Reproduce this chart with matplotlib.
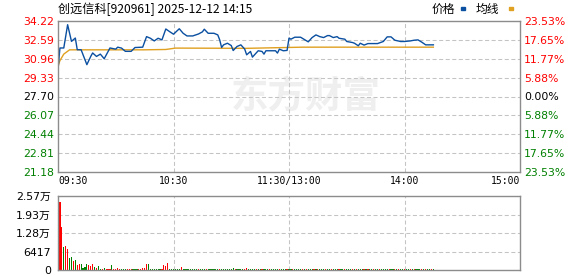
import matplotlib.pyplot as plt
from matplotlib.patches import Rectangle

# price line (minute since 09:30, price)
minutes = [0, 1, 3, 5, 7, 9, 10, 12, 15, 17, 18, 20, 22, 24, 27, 30, 31, 33, 35, 38,
           40, 44, 46, 48, 50, 52, 54, 56, 58, 60, 63, 65, 67, 70, 73, 75, 76, 78, 81, 83,
           84, 85, 86, 88, 90, 91, 93, 95, 97, 98, 100, 101, 104, 106, 107, 108, 113, 114, 115, 117,
           119, 120, 121, 123, 126, 128, 130, 132, 134, 136, 138, 140, 141, 143, 145, 146, 149, 150, 153, 154,
           156, 157, 159, 161, 166, 169, 171, 173, 175, 178, 180, 183, 185, 187, 189, 191, 195]
prices = [30.01, 31.89, 31.89, 33.90, 32.46, 32.75, 31.74, 31.74, 30.45, 31.16, 31.46, 31.16, 31.36, 30.96, 31.89, 31.79, 31.96, 31.88, 31.60, 31.60,
          31.93, 31.96, 32.87, 32.73, 32.50, 32.73, 32.59, 33.53, 33.30, 33.08, 33.55, 33.16, 32.93, 32.93, 33.10, 33.28, 33.51, 33.16, 33.16, 33.02,
          32.59, 31.93, 32.16, 32.30, 32.10, 31.67, 32.02, 32.16, 31.79, 31.30, 31.59, 31.10, 31.65, 31.59, 31.36, 31.65, 31.65, 31.45, 31.79, 31.65,
          31.68, 32.74, 32.65, 32.82, 32.82, 32.62, 32.42, 32.79, 33.02, 32.87, 32.79, 32.96, 32.96, 32.79, 32.87, 32.73, 32.65, 32.45, 32.36, 32.30,
          32.08, 32.30, 32.14, 32.27, 32.27, 32.45, 32.85, 32.85, 32.56, 32.45, 32.45, 32.50, 32.56, 32.59, 32.39, 32.16, 32.16]

avg_minutes = [0, 1, 3, 6, 44, 56, 61, 98, 127, 195]
avg_prices = [30.30, 30.80, 31.36, 31.73, 31.73, 31.76, 31.88, 31.86, 31.96, 31.96]

# volume per minute (shares), minute 1..195, and up/down colour per bar
volumes = [
    23600, 15000, 8100, 8300, 7200, 4050, 4400, 3240, 3470, 1730,
    2080, 2080, 800, 930, 2080, 1730, 1500, 2080, 930, 700,
    1390, 350, 350, 700, 350, 350, 350, 1730, 350, 350,
    700, 350, 350, 350, 350, 350, 350, 350, 350, 350,
    350, 350, 350, 700, 700, 2080, 2080, 350, 350, 350,
    350, 350, 350, 350, 1730, 1390, 2430, 350, 350, 350,
    350, 350, 350, 1040, 350, 350, 350, 350, 350, 350,
    350, 350, 350, 350, 350, 350, 350, 350, 350, 350,
    350, 350, 350, 350, 350, 350, 350, 350, 350, 350,
    700, 350, 350, 350, 350, 350, 350, 700, 350, 350,
    350, 350, 350, 350, 350, 350, 350, 350, 350, 350,
    350, 350, 350, 350, 350, 350, 350, 350, 350, 350,
    350, 350, 350, 350, 350, 350, 350, 350, 350, 350,
    350, 350, 350, 350, 350, 350, 350, 350, 350, 350,
    350, 350, 350, 350, 350, 350, 350, 350, 350, 350,
    350, 350, 350, 350, 350, 350, 350, 350, 350, 350,
    350, 350, 350, 350, 350, 350, 350, 350, 350, 350,
    350, 350, 350, 350, 350, 350, 350, 350, 350, 350,
    350, 350, 350, 350, 350, 350, 350, 350, 350, 350,
    350, 350, 350, 350, 350,
]
directions = ("rrgrrggrgr" "rggggrrrgr" "ggrgrrrgrr" "rrgggrrrgg" "grrrrrgggg"
              "gggrrrrggg" "gggrgggggg" "ggrgggrggg" "gggrgggggg" "grggggrrgg"
              "ggrggrgggr" "ggggrgggrg" "grggggrgrg" "ggrgrgggrg" "grgggrggrg"
              "ggrgrgggrg" "rggrggrggg" "grggrgrggr" "ggrgrgg" "grgrggrg")

price_ticks = [34.22, 32.59, 30.96, 29.33, 27.70, 26.07, 24.44, 22.81, 21.18]
pct_labels = ["23.53%", "17.65%", "11.77%", "5.88%", "0.00%", "5.88%", "11.77%", "17.65%", "23.53%"]
label_colors = ["#ff0000"] * 4 + ["#000000"] + ["#008000"] * 4
time_ticks = [0, 60, 120, 180, 240]
time_labels = ["09:30", "10:30", "11:30/13:00", "14:00", "15:00"]
vol_ticks = [0, 6417, 12834, 19251, 25668]
vol_labels = ["0", "6417", "1.28万", "1.93万", "2.57万"]

plt.rcParams['font.family'] = ['DejaVu Sans', 'Noto Sans CJK SC']
W, H = 578, 276
fig = plt.figure(figsize=(W / 100, H / 100), dpi=100)

frame = "#8c8c8c"
grid_color = "#c4c4c4"
grid_dash = (0, (3.9, 2.4))


def style(ax, yvals, xvals):
    for s in ax.spines.values():
        s.set_color(frame)
        s.set_linewidth(1.0)
        s.set_zorder(5)
    ax.tick_params(length=0)
    # dashed guide lines at the inner ticks
    ax.hlines(yvals[1:-1], 0, 240, colors=grid_color, linestyles=[grid_dash],
              linewidth=0.75, zorder=1)
    ax.vlines(xvals[1:-1], yvals[0], yvals[-1], colors=grid_color, linestyles=[grid_dash],
              linewidth=0.75, zorder=1)


# price panel
ax = fig.add_axes([58 / W, 1 - 172 / H, 462 / W, 151 / H])
style(ax, price_ticks[::-1], time_ticks)
ax.set_xlim(0, 240)
ax.set_ylim(21.18, 34.22)
ax.text(0.537, 0.50, "东方财富", transform=ax.transAxes, ha="center", va="center",
        fontsize=27, fontweight="bold", color="#efefef", family=["Noto Sans CJK SC"], zorder=0)
ax.plot(avg_minutes, avg_prices, color="#e0a020", linewidth=1.0, zorder=3)
ax.plot(minutes, prices, color="#0a4fa0", linewidth=1.0, zorder=4)

ax.set_yticks(price_ticks)
ax.set_yticklabels([f"{t:.2f}" for t in price_ticks], fontsize=7.8)
ax.tick_params(axis="y", pad=3)
for lab, c in zip(ax.get_yticklabels(), label_colors):
    lab.set_color(c)
ax.set_xticks(time_ticks)
ax.set_xticklabels(time_labels, fontsize=7, family="DejaVu Sans Mono")
ax.tick_params(axis="x", pad=3)
xl = ax.get_xticklabels()
xl[0].set_ha("left")
xl[-1].set_ha("right")

ax2 = ax.twinx()
ax2.set_ylim(21.18, 34.22)
for s in ax2.spines.values():
    s.set_visible(False)
ax2.tick_params(length=0)
ax2.set_yticks(price_ticks)
ax2.set_yticklabels(pct_labels, fontsize=7.8)
ax2.tick_params(axis="y", pad=3)
for lab, c in zip(ax2.get_yticklabels(), label_colors):
    lab.set_color(c)

# volume panel
vx = fig.add_axes([58 / W, 1 - 270 / H, 462 / W, 74 / H])
style(vx, vol_ticks, time_ticks)
vx.set_xlim(0, 240)
vx.set_ylim(0, 25668)
bar_x = list(range(1, len(volumes) + 1))
bar_c = ["#ff0000" if d == "r" else "#008000" for d in directions[:len(volumes)]]
vx.bar(bar_x, volumes, width=0.6, color=bar_c, linewidth=0, zorder=3)
vx.set_xticks([])
vx.set_yticks(vol_ticks)
vx.set_yticklabels(vol_labels, fontsize=7.8)
vx.tick_params(axis="y", pad=5)

# header and legend
fig.text(58 / W, 1 - 9 / H, "创远信科[920961] 2025-12-12 14:15", fontsize=8.7,
         va="center", ha="left", family=["Noto Sans CJK SC"])
fig.text(432 / W, 1 - 9 / H, "价格", fontsize=8.5, va="center", family=["Noto Sans CJK SC"])
fig.add_artist(Rectangle((461 / W, 1 - 10 / H), 4 / W, 3 / H, transform=fig.transFigure,
                         color="#0a4fa0"))
fig.text(476 / W, 1 - 9 / H, "均线", fontsize=8.5, va="center", family=["Noto Sans CJK SC"])
fig.add_artist(Rectangle((509 / W, 1 - 10 / H), 4 / W, 3 / H, transform=fig.transFigure,
                         color="#e0a020"))

fig.savefig("out.png", dpi=100)
